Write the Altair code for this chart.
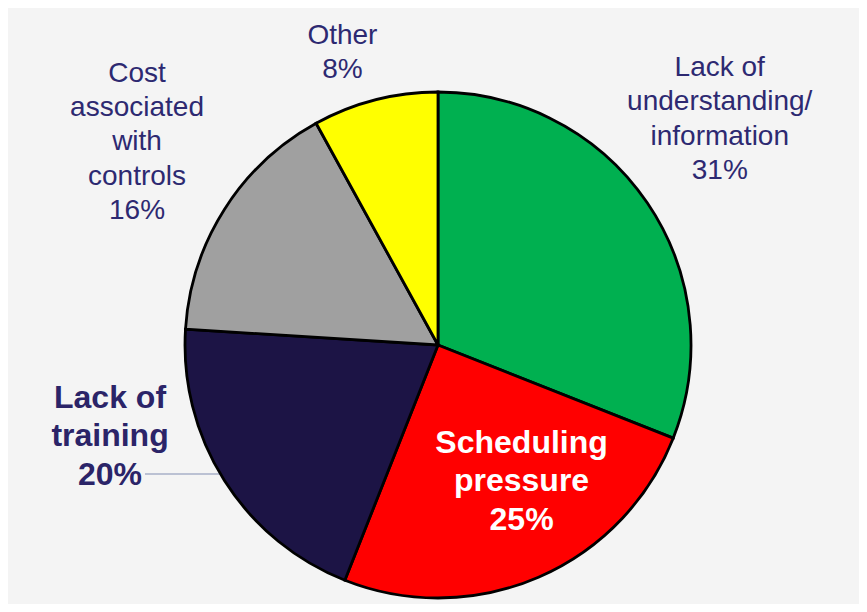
import altair as alt
import pandas as pd
import math

categories = ["Lack of understanding/information", "Scheduling pressure",
              "Lack of training", "Cost associated with controls", "Other"]
values = [31, 25, 20, 16, 8]
label_lines = [
    ["Lack of", "understanding/", "information", "31%"],
    ["Scheduling", "pressure", "25%"],
    ["Lack of", "training", "20%"],
    ["Cost", "associated", "with", "controls", "16%"],
    ["Other", "8%"],
]
colors = ["#00b050", "#ff0000", "#1c1445", "#a0a0a0", "#ffff00"]

df = pd.DataFrame({
    "category": categories,
    "value": values,
    "order": list(range(len(categories))),
    "label": label_lines,
})

W, H = 851, 596
CX, CY = 430, 337
R = 253
TAU = 2 * math.pi
theta_scale = alt.Scale(domain=[0, 100], range=[0, TAU])

base = alt.Chart(df)

pie = base.mark_arc(outerRadius=R, stroke="#000000", strokeWidth=2.8).encode(
    theta=alt.Theta("value:Q", stack=True, scale=theta_scale),
    color=alt.Color("category:N", scale=alt.Scale(domain=categories, range=colors), legend=None),
    order=alt.Order("order:Q"),
    x=alt.value(CX),
    y=alt.value(CY),
)

mid = base.transform_window(
    cum="sum(value)", sort=[alt.SortField("order")], frame=[None, 0]
).transform_calculate(
    mid="datum.cum - datum.value / 2"
)

NAVY_TEXT = "#2d2971"

def label_layer(cat, radius, dx, dy, size, bold, color, lh):
    return mid.transform_filter(alt.datum.category == cat).mark_text(
        radius=radius, dx=dx, dy=dy, align="center", baseline="alphabetic",
        font="Liberation Sans", fontSize=size, fontWeight="bold" if bold else "normal",
        color=color, lineHeight=lh,
    ).encode(
        theta=alt.Theta("mid:Q", scale=theta_scale),
        text="label",
        x=alt.value(CX),
        y=alt.value(CY),
    )

labels = [
    label_layer(categories[0], 360, -16, -67, 28, False, NAVY_TEXT, 34.5),
    label_layer(categories[1], 150, 24, -30, 32, True, "#ffffff", 38.5),
    label_layer(categories[2], 360, -24, -130, 32, True, "#2b2468", 38.5),
    label_layer(categories[3], 360, 3, -70, 28, False, NAVY_TEXT, 34.2),
    label_layer(categories[4], 300, -21, -10, 28, False, NAVY_TEXT, 34),
]

leader = alt.Chart(pd.DataFrame({"k": [0]})).mark_rule(
    color="#a9b0c8", strokeWidth=1.5
).encode(x=alt.value(137), x2=alt.value(214), y=alt.value(466))

chart = alt.layer(leader, pie, *labels).properties(
    width=W, height=H, background="#f4f4f4", padding=0,
    autosize=alt.AutoSizeParams(type="fit", contains="padding"),
).configure_view(stroke=None)

chart.save("out.html", embed_options={"renderer": "svg", "actions": False})
